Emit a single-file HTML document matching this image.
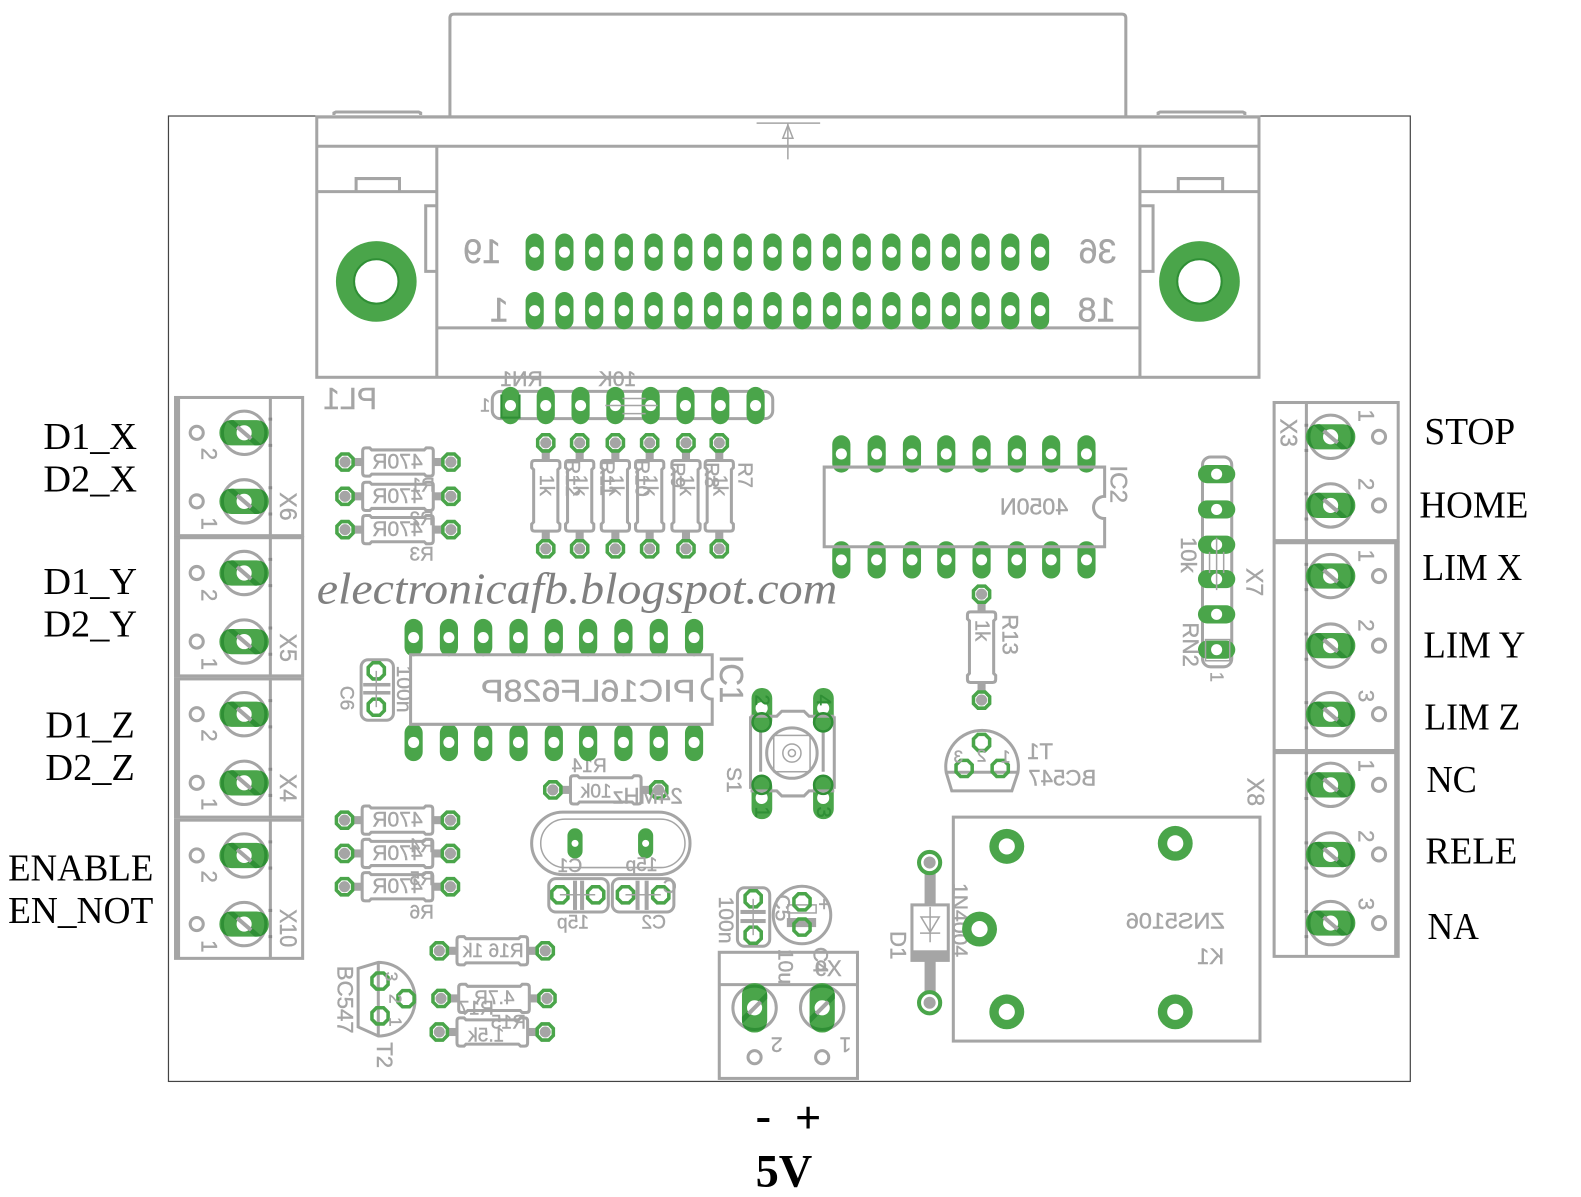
<!DOCTYPE html>
<html><head><meta charset="utf-8"><style>
html,body{margin:0;padding:0;background:#fff}
svg{display:block}
.l{fill:none;stroke:#a5a5a5;stroke-width:3}
.t{stroke:#a5a5a5;stroke-width:1.5;fill:none}
text{font-family:"Liberation Sans",sans-serif;fill:#a5a5a5;stroke:#a5a5a5;stroke-width:.4;dominant-baseline:central;text-anchor:middle}
.s{font-family:"Liberation Serif",serif;fill:#000;stroke:none;font-size:38px;dominant-baseline:auto;text-anchor:start}
.g{fill:#2f8f35;stroke:#2f8f35}
</style></head><body>
<svg width="1581" height="1197" viewBox="0 0 1581 1197" xmlns="http://www.w3.org/2000/svg">
<defs>
<clipPath id="cph"><rect x="-24.5" y="-12.5" width="49" height="25" rx="12"/></clipPath>
<clipPath id="cpv"><rect x="-12.5" y="-24.5" width="25" height="49" rx="12"/></clipPath>
<g id="ov"><rect x="-9" y="-18.5" width="18" height="37" rx="9" fill="#4aa54a"/><circle r="5.5" fill="#fff"/></g>
<g id="oh"><rect x="-18.5" y="-9" width="37" height="18" rx="9" fill="#4aa54a"/><circle r="5.5" fill="#fff"/></g>
<g id="rg"><circle r="5.5" fill="#a5a5a5"/><polygon points="-3.5,-8 3.5,-8 8,-3.5 8,3.5 3.5,8 -3.5,8 -8,3.5 -8,-3.5" fill="none" stroke="#4aa54a" stroke-width="3.5"/></g>
<g id="rw"><polygon points="-3.5,-8 3.5,-8 8,-3.5 8,3.5 3.5,8 -3.5,8 -8,3.5 -8,-3.5" fill="none" stroke="#4aa54a" stroke-width="3.5"/></g>
<g id="res">
<path class="l" d="M-32,-14H-28L-26,-12H26L28,-14H32Q35,-14 35,-11V11Q35,14 32,14H28L26,12H-26L-28,14H-32Q-35,14 -35,11V-11Q-35,-14 -32,-14Z"/>
<rect x="-46" y="-4" width="11" height="8" fill="#a5a5a5"/><rect x="35" y="-4" width="11" height="8" fill="#a5a5a5"/>
<use href="#rg" x="-52.5"/><use href="#rg" x="52.5"/>
</g>
<g id="sh"><circle r="21.5" class="l"/><rect x="-24.5" y="-12.5" width="49" height="25" rx="12" fill="#4aa54a"/><g clip-path="url(#cph)"><circle r="21.5" fill="none" stroke="#2f8f35" stroke-width="3"/><path d="M-17,-15L17,15" stroke="#2f8f35" stroke-width="5"/></g><circle r="7.5" fill="#fff"/><path d="M-7,-6L7,6" stroke="#a5a5a5" stroke-width="4"/></g>
<g id="sv"><circle r="21.5" class="l"/><rect x="-12.5" y="-24.5" width="25" height="49" rx="12" fill="#4aa54a"/><g clip-path="url(#cpv)"><circle r="21.5" fill="none" stroke="#2f8f35" stroke-width="3"/><path d="M-16,16L16,-16" stroke="#2f8f35" stroke-width="5"/></g><circle r="7.5" fill="#fff"/><path d="M-6,6L6,-6" stroke="#a5a5a5" stroke-width="4"/></g>
<g id="h"><circle r="6.5" fill="none" stroke="#a5a5a5" stroke-width="3"/></g>
<g id="big"><circle r="17.3" fill="#4aa54a"/><circle r="8" fill="#fff"/></g>
<g id="blk">
<rect x="174" y="0" width="126" height="137" class="l" fill="none"/><rect x="173.5" y="-1" width="5" height="139" fill="#a5a5a5"/>
<path class="l" d="M268,0V137"/>
<path d="M268,20v3M268,46v3M268,88v3M268,114v3" stroke="#888" stroke-width="3.5" fill="none"/>
<use href="#sh" x="242" y="35"/><use href="#sh" x="242" y="103"/>
<use href="#h" x="195" y="35"/><use href="#h" x="195" y="103"/>
</g>
</defs>
<g transform="scale(1.0088)">
<!-- board -->
<rect x="167" y="115" width="1231" height="957" fill="none" stroke="#444" stroke-width="1.2"/>
<!-- connector -->
<path class="l" d="M446,115V18Q446,14 450,14H1112Q1116,14 1116,18V115"/>
<path class="l" d="M331,114V112L333,111H415L417,112V114M1148,114V112L1150,111H1232L1234,112V114"/>
<rect x="314" y="116" width="934" height="258" class="l"/>
<path class="l" d="M314,145H1248M433,145V374M1130,145V374M433,325H1130M314,190H433M1130,190H1248M353,190V177H396V190M1168,190V177H1212V190M433,204H422V269H433M1130,204H1143V269H1130"/>
<path d="M750,122H813M781,122V158" class="t"/><path d="M781,124L776,137H786Z" class="t"/>
<g fill="#4aa54a"><circle cx="373" cy="279" r="40"/><circle cx="1189" cy="279" r="40"/></g>
<circle cx="373" cy="279" r="22" fill="#fff" stroke="#2f8f35" stroke-width="2"/><circle cx="1189" cy="279" r="22" fill="#fff" stroke="#2f8f35" stroke-width="2"/>
<use href="#ov" x="530" y="250"/><use href="#ov" x="559.5" y="250"/><use href="#ov" x="589" y="250"/><use href="#ov" x="618.4" y="250"/><use href="#ov" x="647.9" y="250"/><use href="#ov" x="677.4" y="250"/><use href="#ov" x="706.8" y="250"/><use href="#ov" x="736.3" y="250"/><use href="#ov" x="765.8" y="250"/><use href="#ov" x="795.2" y="250"/><use href="#ov" x="824.7" y="250"/><use href="#ov" x="854.2" y="250"/><use href="#ov" x="883.6" y="250"/><use href="#ov" x="913.1" y="250"/><use href="#ov" x="942.6" y="250"/><use href="#ov" x="972" y="250"/><use href="#ov" x="1001.5" y="250"/><use href="#ov" x="1031" y="250"/>
<use href="#ov" x="530" y="308"/><use href="#ov" x="559.5" y="308"/><use href="#ov" x="589" y="308"/><use href="#ov" x="618.4" y="308"/><use href="#ov" x="647.9" y="308"/><use href="#ov" x="677.4" y="308"/><use href="#ov" x="706.8" y="308"/><use href="#ov" x="736.3" y="308"/><use href="#ov" x="765.8" y="308"/><use href="#ov" x="795.2" y="308"/><use href="#ov" x="824.7" y="308"/><use href="#ov" x="854.2" y="308"/><use href="#ov" x="883.6" y="308"/><use href="#ov" x="913.1" y="308"/><use href="#ov" x="942.6" y="308"/><use href="#ov" x="972" y="308"/><use href="#ov" x="1001.5" y="308"/><use href="#ov" x="1031" y="308"/>
<g font-size="34">
<text transform="translate(478,250) scale(-1,1)">19</text><text transform="translate(1088,250) scale(-1,1)">36</text>
<text transform="translate(495,308) scale(-1,1)">1</text><text transform="translate(1087,308) scale(-1,1)">18</text>
<text transform="translate(347,396) scale(-1,1)" font-size="30">PL1</text>
</g>
<!-- left blocks -->
<use href="#blk" y="394"/><use href="#blk" y="533"/><use href="#blk" y="673"/><use href="#blk" y="813"/>
<g font-size="24">
<text transform="translate(285,502) rotate(90)" textLength="28" lengthAdjust="spacingAndGlyphs">X6</text><text transform="translate(285,642) rotate(90)" textLength="28" lengthAdjust="spacingAndGlyphs">X5</text><text transform="translate(285,781) rotate(90)" textLength="28" lengthAdjust="spacingAndGlyphs">X4</text><text transform="translate(285,920) rotate(90)" textLength="38" lengthAdjust="spacingAndGlyphs">X10</text>
</g>
<g font-size="22">
<text transform="translate(207,450) rotate(90)">2</text><text transform="translate(207,519) rotate(90)">1</text>
<text transform="translate(207,590) rotate(90)">2</text><text transform="translate(207,658) rotate(90)">1</text>
<text transform="translate(207,729) rotate(90)">2</text><text transform="translate(207,797) rotate(90)">1</text>
<text transform="translate(207,869) rotate(90)">2</text><text transform="translate(207,938) rotate(90)">1</text>
</g>
<!-- right blocks -->
<g class="l"><rect x="1263" y="399" width="123" height="137"/><path d="M1295,399V948M1263,537V948H1386V537M1263,745H1386"/></g>
<path d="M1263,537H1386M1263,745H1386" stroke="#a5a5a5" stroke-width="5"/><rect x="1382" y="537" width="5" height="412" fill="#a5a5a5"/>
<path d="M1295,420v3M1295,445v3M1295,488v3M1295,513v3M1295,558v3M1295,583v3M1295,627v3M1295,652v3M1295,695v3M1295,720v3M1295,765v3M1295,790v3M1295,834v3M1295,859v3M1295,902v3M1295,927v3" stroke="#888" stroke-width="3.5" fill="none"/>
<use href="#sh" x="1319" y="433"/><use href="#sh" x="1319" y="501"/><use href="#sh" x="1319" y="571"/><use href="#sh" x="1319" y="640"/><use href="#sh" x="1319" y="708"/><use href="#sh" x="1319" y="778"/><use href="#sh" x="1319" y="847"/><use href="#sh" x="1319" y="915"/>
<use href="#h" x="1367" y="433"/><use href="#h" x="1367" y="501"/><use href="#h" x="1367" y="571"/><use href="#h" x="1367" y="640"/><use href="#h" x="1367" y="708"/><use href="#h" x="1367" y="778"/><use href="#h" x="1367" y="847"/><use href="#h" x="1367" y="915"/>
<g font-size="22">
<text transform="translate(1354,412) rotate(90)">1</text><text transform="translate(1354,480) rotate(90)">2</text><text transform="translate(1354,551) rotate(90)">1</text><text transform="translate(1354,620) rotate(90)">2</text><text transform="translate(1354,690) rotate(90)">3</text><text transform="translate(1354,759) rotate(90)">1</text><text transform="translate(1354,829) rotate(90)">2</text><text transform="translate(1354,896) rotate(90)">3</text>
</g>
<g font-size="24">
<text transform="translate(1277,429) rotate(90)" textLength="28" lengthAdjust="spacingAndGlyphs">X3</text><text transform="translate(1243,577) rotate(90)" textLength="28" lengthAdjust="spacingAndGlyphs">X7</text><text transform="translate(1244,785) rotate(90)" textLength="28" lengthAdjust="spacingAndGlyphs">X8</text>
</g>
<!-- RN1 -->
<rect x="488" y="388" width="278" height="27" rx="8" class="l"/>
<use href="#ov" x="506" y="402"/><use href="#ov" x="541" y="402"/><use href="#ov" x="575.5" y="402"/><use href="#ov" x="610" y="402"/><use href="#ov" x="645" y="402"/><use href="#ov" x="679.5" y="402"/><use href="#ov" x="714" y="402"/><use href="#ov" x="749" y="402"/>
<path d="M497,391V414H515V391" stroke="#2f8f35" stroke-width="2" fill="none"/>
<path d="M600,402H652M617,395H640M617,410H640" class="t" stroke-width="2.5"/>
<g font-size="21">
<text transform="translate(517,376) scale(-1,1)">RN1</text><text transform="translate(612,376) scale(-1,1)">10K</text><text transform="translate(481,402) scale(-1,1)" font-size="18">1</text>
</g>
<!-- vertical resistors -->
<use href="#res" transform="translate(541,491.5) rotate(90)"/><use href="#res" transform="translate(574.6,491.5) rotate(90)"/><use href="#res" transform="translate(610,491.5) rotate(90)"/><use href="#res" transform="translate(644,491.5) rotate(90)"/><use href="#res" transform="translate(680,491.5) rotate(90)"/><use href="#res" transform="translate(713,491.5) rotate(90)"/>
<g font-size="20">
<text transform="translate(541,481) rotate(90)">1k</text><text transform="translate(574.6,481) rotate(90)">1k</text><text transform="translate(610,481) rotate(90)">1k</text><text transform="translate(644,481) rotate(90)">1k</text><text transform="translate(680,481) rotate(90)">1k</text><text transform="translate(713,481) rotate(90)">1k</text>
<text transform="translate(567,474) rotate(90)">R12</text><text transform="translate(601,474) rotate(90)">R11</text><text transform="translate(636,474) rotate(90)">R10</text><text transform="translate(671,471) rotate(90)">R9</text><text transform="translate(705,471) rotate(90)">R8</text><text transform="translate(738,471) rotate(90)">R7</text>
</g>
<!-- horizontal resistors -->
<use href="#res" x="394.5" y="458"/><use href="#res" x="394.5" y="492"/><use href="#res" x="394.5" y="525"/>
<use href="#res" x="394" y="813"/><use href="#res" x="394" y="846"/><use href="#res" x="394" y="879"/>
<use href="#res" x="600.5" y="783"/><use href="#res" x="488" y="942.5"/><use href="#res" x="489.7" y="989.7"/><use href="#res" x="488" y="1023"/>
<g font-size="21">
<text transform="translate(394,458) scale(-1,1)">470R</text><text transform="translate(394,492) scale(-1,1)">470R</text><text transform="translate(394,525) scale(-1,1)">470R</text>
<text transform="translate(394,813) scale(-1,1)">470R</text><text transform="translate(394,846) scale(-1,1)">470R</text><text transform="translate(394,879) scale(-1,1)">470R</text>
<text transform="translate(419,482) scale(-1,1)" font-size="19">R1</text><text transform="translate(418,515) scale(-1,1)" font-size="19">R2</text><text transform="translate(418,550) scale(-1,1)" font-size="19">R3</text>
<text transform="translate(418,839) scale(-1,1)" font-size="19">R4</text><text transform="translate(418,872) scale(-1,1)" font-size="19">R5</text><text transform="translate(418,905) scale(-1,1)" font-size="19">R6</text>
<text transform="translate(584,760) scale(-1,1)" font-size="19">R14</text><text transform="translate(591,785) scale(-1,1)" font-size="19">10k</text>
<text transform="translate(642,789) scale(-1,1)" font-size="22">24MHz</text>
<text transform="translate(489,943) scale(-1,1)" font-size="19">R16 1k</text>
<text transform="translate(490,990) scale(-1,1)" font-size="19">4.7R</text><text transform="translate(472,1000) scale(-1,1)" font-size="19">R17</text>
<text transform="translate(482,1027) scale(-1,1)" font-size="19">1.5k</text><text transform="translate(504,1014) scale(-1,1)" font-size="19">R15</text>
</g>
<!-- IC1 -->
<use href="#ov" x="410" y="632"/><use href="#ov" x="445" y="632"/><use href="#ov" x="479" y="632"/><use href="#ov" x="514" y="632"/><use href="#ov" x="549" y="632"/><use href="#ov" x="583" y="632"/><use href="#ov" x="618" y="632"/><use href="#ov" x="653" y="632"/><use href="#ov" x="688" y="632"/>
<use href="#ov" x="410" y="736"/><use href="#ov" x="445" y="736"/><use href="#ov" x="479" y="736"/><use href="#ov" x="514" y="736"/><use href="#ov" x="549" y="736"/><use href="#ov" x="583" y="736"/><use href="#ov" x="618" y="736"/><use href="#ov" x="653" y="736"/><use href="#ov" x="688" y="736"/>
<path class="l" fill="#fff" d="M407,649H706V673A10,10 0 0 0 706,693V718H407Z"/>
<text transform="translate(583,685) scale(-1,1)" font-size="31" textLength="213" lengthAdjust="spacingAndGlyphs">PIC16LF628P</text>
<text transform="translate(724,673) rotate(90)" font-size="33" textLength="48" lengthAdjust="spacingAndGlyphs">IC1</text>
<text transform="translate(400,683) rotate(90)" font-size="21">100n</text>
<rect x="358" y="654" width="32" height="60" rx="7" class="l"/>
<use href="#rw" x="373" y="665"/><use href="#rw" x="373" y="701"/><rect x="360" y="677" width="27" height="3.5" fill="#a5a5a5"/><rect x="360" y="685" width="27" height="3.5" fill="#a5a5a5"/><path d="M373,665V701" class="t"/>
<text transform="translate(343,692) rotate(90)" font-size="19">C6</text>
<!-- IC2 -->
<use href="#ov" x="834" y="450"/><use href="#ov" x="869" y="450"/><use href="#ov" x="904" y="450"/><use href="#ov" x="938" y="450"/><use href="#ov" x="973" y="450"/><use href="#ov" x="1008" y="450"/><use href="#ov" x="1042" y="450"/><use href="#ov" x="1077" y="450"/>
<use href="#ov" x="834" y="555"/><use href="#ov" x="869" y="555"/><use href="#ov" x="904" y="555"/><use href="#ov" x="938" y="555"/><use href="#ov" x="973" y="555"/><use href="#ov" x="1008" y="555"/><use href="#ov" x="1042" y="555"/><use href="#ov" x="1077" y="555"/>
<path class="l" d="M817,463H1095V492A11,11 0 0 0 1095,514V542H817Z"/>
<text transform="translate(1025,502) scale(-1,1)" font-size="23">4050N</text>
<text transform="translate(1108,480) rotate(90)" font-size="24">IC2</text>
<!-- R13 -->
<use href="#res" transform="translate(973,641.5) rotate(90)"/>
<text transform="translate(973,625) rotate(90)" font-size="20">1k</text><text transform="translate(1001,629) rotate(90)" font-size="22">R13</text>
<!-- RN2 -->
<rect x="1192" y="453" width="29" height="208" rx="8" class="l"/>
<use href="#oh" x="1206" y="470"/><use href="#oh" x="1206" y="505"/><use href="#oh" x="1206" y="540"/><use href="#oh" x="1206" y="574"/><use href="#oh" x="1206" y="609"/><use href="#oh" x="1206" y="644"/>
<path d="M1206,533V585M1199,547V568M1213,547V568" class="t" stroke-width="2.5"/><rect x="1195" y="634" width="24" height="21" class="t"/>
<g font-size="22"><text transform="translate(1178,550) rotate(90)">10k</text><text transform="translate(1180,639) rotate(90)">RN2</text><text transform="translate(1206,671) rotate(90)" font-size="18">1</text></g>
<!-- T1 -->
<path class="l" stroke-width="2.5" d="M943.5,784L938,766A36,36 0 1 1 1009,766L1003,784ZM938,765.5H1009"/>
<use href="#rw" x="973" y="736"/><use href="#rw" x="955.7" y="761.7"/><use href="#rw" x="991.5" y="761.7"/>
<text transform="translate(1053,771) scale(-1,1)" font-size="22">BC547</text><text transform="translate(1031,745) scale(-1,1)" font-size="22">T1</text>
<text transform="translate(950,750) scale(-1,1)" font-size="17">3</text><text transform="translate(973,749) scale(-1,1)" font-size="17">2</text><text transform="translate(997,750) scale(-1,1)" font-size="17">1</text>
<!-- S1 -->
<rect x="745" y="682" width="20.5" height="42" rx="10" fill="#4aa54a"/><rect x="806" y="682" width="20.5" height="42" rx="10" fill="#4aa54a"/><rect x="745" y="770" width="20.5" height="42" rx="10" fill="#4aa54a"/><rect x="806" y="770" width="20.5" height="42" rx="10" fill="#4aa54a"/>
<g fill="#fff"><circle cx="755" cy="702" r="6"/><circle cx="816" cy="702" r="6"/><circle cx="755" cy="791" r="6"/><circle cx="816" cy="791" r="6"/></g>
<path class="l" stroke-width="2.5" d="M744,710V782M827,710V782M744,710H770L775,705H797L802,710H827M744,784H770L775,789H797L802,784H827M754,725V765M816,725V765"/>
<circle cx="785" cy="746.5" r="25" class="l" stroke-width="2.5"/><rect x="767" y="729" width="36" height="36" class="t"/><circle cx="785" cy="746.5" r="9" class="t"/><circle cx="785" cy="746.5" r="3.5" class="t"/>
<circle cx="755" cy="716" r="9" fill="none" stroke="#2f8f35" stroke-width="2.5"/><circle cx="816" cy="716" r="9" fill="none" stroke="#2f8f35" stroke-width="2.5"/><circle cx="755" cy="778" r="9" fill="none" stroke="#2f8f35" stroke-width="2.5"/><circle cx="816" cy="778" r="9" fill="none" stroke="#2f8f35" stroke-width="2.5"/>
<text transform="translate(727,773) rotate(90)" font-size="21">S1</text>
<g font-size="20"><text class="g" transform="translate(755,694) rotate(90)">2</text><text class="g" transform="translate(816,694) rotate(90)">4</text><text class="g" transform="translate(755,805) rotate(90)">1</text><text class="g" transform="translate(816,805) rotate(90)">3</text></g>
<!-- crystal and caps -->
<rect x="527" y="805" width="157" height="62" rx="31" class="l"/><rect x="536" y="812" width="143" height="48" rx="24" class="t" stroke-width="1"/>
<rect x="562.5" y="821" width="15" height="30" rx="7.5" fill="#4aa54a"/><rect x="632.5" y="821" width="15" height="30" rx="7.5" fill="#4aa54a"/><circle cx="570" cy="836" r="3.5" fill="#fff"/><circle cx="640" cy="836" r="3.5" fill="#fff"/>
<text transform="translate(565,859) scale(-1,1)" font-size="19">C1</text><text transform="translate(636,858) scale(-1,1)" font-size="19">15p</text>
<rect x="544" y="871" width="59" height="33" rx="7" class="l"/><rect x="607" y="871" width="61" height="33" rx="7" class="l"/>
<use href="#rw" x="555" y="887"/><use href="#rw" x="590.5" y="887"/><use href="#rw" x="620" y="887"/><use href="#rw" x="655" y="887"/>
<g fill="#a5a5a5"><rect x="568" y="873" width="4" height="29"/><rect x="575" y="873" width="4" height="29"/><rect x="630" y="873" width="4" height="29"/><rect x="639" y="873" width="4" height="29"/></g>
<path d="M555,887H590M620,887H655" class="t"/>
<text transform="translate(568,915) scale(-1,1)" font-size="19">15p</text><text transform="translate(648,915) scale(-1,1)" font-size="19">C2</text><text transform="translate(664,880) scale(-1,1)" font-size="19">C</text>
<!-- T2 -->
<path class="l" stroke-width="2" d="M355,960L375,954A36,36 0 0 1 375,1027L355,1018ZM375,954V1027"/>
<use href="#rw" x="376.7" y="972.5"/><use href="#rw" x="402.5" y="990"/><use href="#rw" x="376.7" y="1007"/>
<g font-size="17"><text transform="translate(388,968) rotate(90)">3</text><text transform="translate(392,990) rotate(90)">2</text><text transform="translate(392,1013) rotate(90)">1</text></g>
<text transform="translate(342,991) rotate(90)" font-size="22">BC547</text><text transform="translate(381,1046) rotate(90)" font-size="22">T2</text>
<!-- C5 C4 -->
<rect x="731" y="880" width="32" height="58" rx="7" class="l"/>
<use href="#rw" x="746.6" y="891"/><use href="#rw" x="746.6" y="927"/><rect x="734" y="902" width="25" height="4" fill="#a5a5a5"/><rect x="734" y="911" width="25" height="4" fill="#a5a5a5"/>
<path d="M746.6,891V927" class="t"/>
<text transform="translate(719,912) rotate(90)" font-size="21">100n</text>
<circle cx="795" cy="907" r="28.5" class="l"/>
<rect x="781" y="897" width="28" height="8" class="t"/><rect x="780" y="910" width="29" height="9" fill="#a5a5a5"/>
<use href="#rw" x="795" y="894"/><use href="#rw" x="795" y="919"/>
<text x="817" y="897" font-size="20">+</text>
<text transform="translate(775,900) rotate(90)" font-size="21">C5</text><text transform="translate(813,952) rotate(90)" font-size="21">C4</text><text transform="translate(778,958) rotate(90)" font-size="21">10u</text>
<!-- X9 -->
<rect x="713" y="944" width="137" height="125" class="l"/><path class="l" d="M713,976H850"/>
<use href="#sv" x="748" y="999"/><use href="#sv" x="815" y="999"/><use href="#h" x="748" y="1048"/><use href="#h" x="815" y="1048"/>
<text transform="translate(821,960) scale(-1,1)" font-size="22">X9</text>
<text transform="translate(770,1035) scale(-1,-1)" font-size="21">2</text><text transform="translate(838,1035) scale(-1,-1)" font-size="21">1</text>
<!-- D1 -->
<rect x="916.5" y="863" width="11" height="122" fill="#a5a5a5"/>
<circle cx="921.5" cy="855" r="10.5" fill="#fff" stroke="#4aa54a" stroke-width="4"/><circle cx="921.5" cy="994" r="10.5" fill="#fff" stroke="#4aa54a" stroke-width="4"/>
<circle cx="921.5" cy="855" r="6" fill="#a5a5a5"/><circle cx="921.5" cy="994" r="6" fill="#a5a5a5"/>
<rect x="904" y="897" width="36" height="55" fill="#fff" stroke="#a5a5a5" stroke-width="3"/><rect x="904" y="942" width="36" height="9" fill="#a5a5a5"/>
<path d="M913,909H931L922,924ZM912,925H932M922,899V934" class="t" stroke-width="2.5"/>
<text transform="translate(890,937) rotate(90)" font-size="22">D1</text><text transform="translate(951,912) rotate(90)" font-size="21">1N4004</text>
<!-- K1 -->
<rect x="945" y="810" width="304" height="222" class="l"/>
<use href="#big" x="998" y="839"/><use href="#big" x="1165" y="836"/><use href="#big" x="971" y="921"/><use href="#big" x="998" y="1003"/><use href="#big" x="1165" y="1003"/>
<text transform="translate(1165,913) scale(-1,1)" font-size="22" textLength="98" lengthAdjust="spacingAndGlyphs">ZNS5106</text><text transform="translate(1200,948) scale(-1,1)" font-size="22">K1</text>
<!-- watermark -->
<text x="314" y="598" style="font-family:'Liberation Serif',serif;font-style:italic;fill:#808080;stroke:none;text-anchor:start;dominant-baseline:auto" font-size="44" textLength="516" lengthAdjust="spacingAndGlyphs">electronicafb.blogspot.com</text>
<!-- labels -->
<text class="s" x="43" y="445">D1_X</text><text class="s" x="43" y="487">D2_X</text>
<text class="s" x="43" y="589">D1_Y</text><text class="s" x="43" y="631">D2_Y</text>
<text class="s" x="45" y="731">D1_Z</text><text class="s" x="45" y="773">D2_Z</text>
<text class="s" x="8" y="873" textLength="144" lengthAdjust="spacingAndGlyphs">ENABLE</text><text class="s" x="8" y="915" textLength="144" lengthAdjust="spacingAndGlyphs">EN_NOT</text>
<text class="s" x="1412" y="440" textLength="90" lengthAdjust="spacingAndGlyphs">STOP</text><text class="s" x="1407" y="513" textLength="108" lengthAdjust="spacingAndGlyphs">HOME</text>
<text class="s" x="1410" y="575" textLength="99" lengthAdjust="spacingAndGlyphs">LIM X</text><text class="s" x="1411" y="652" textLength="101" lengthAdjust="spacingAndGlyphs">LIM Y</text><text class="s" x="1412" y="723" textLength="95" lengthAdjust="spacingAndGlyphs">LIM Z</text>
<text class="s" x="1414" y="785" textLength="50" lengthAdjust="spacingAndGlyphs">NC</text><text class="s" x="1413" y="856" textLength="91" lengthAdjust="spacingAndGlyphs">RELE</text><text class="s" x="1415" y="931" textLength="51" lengthAdjust="spacingAndGlyphs">NA</text>
<text class="s" x="749" y="1121" style="font-size:46px;font-weight:bold">-</text><text class="s" x="788" y="1123" style="font-size:46px;font-weight:bold">+</text>
<text class="s" x="749" y="1176" style="font-size:46px;font-weight:bold">5V</text>
</g>
</svg>
</body></html>
